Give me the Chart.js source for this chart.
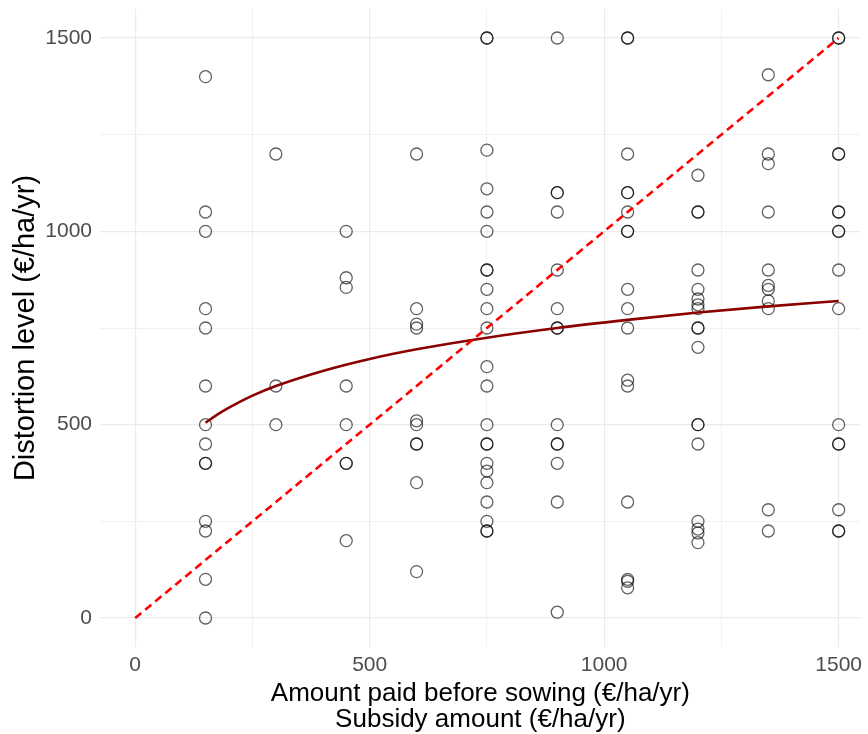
<!DOCTYPE html>
<html>
<head>
<meta charset="utf-8">
<script src="https://cdn.jsdelivr.net/npm/chart.js@4.4.1/dist/chart.umd.min.js"></script>
<style>
  html, body { margin: 0; padding: 0; background: #fff; overflow: hidden; }
  canvas { display: block; }
</style>
</head>
<body>
<canvas id="scatter-chart" width="868" height="734"></canvas>
<script>
(function () {
    "use strict";

    // subsidy levels (x) and the distortion answers read at each level (y)
    var subsidyLevels = [150, 300, 450, 600, 750, 900, 1050, 1200, 1350, 1500];
    var at150 = [1400, 1050, 1000, 800, 750, 600, 500, 450, 400, 400, 250, 225, 100, 0];
    var at300 = [1200, 600, 500];
    var at450 = [1000, 880, 855, 600, 500, 400, 400, 200];
    var at600 = [1200, 800, 760, 750, 510, 500, 450, 450, 350, 120];
    var at750 = [1500, 1500, 1210, 1110, 1050, 1000, 900, 900, 850, 800, 750, 650, 600, 500, 450, 450, 400, 380, 350, 300, 250, 225, 225];
    var at900 = [1500, 1100, 1100, 1050, 900, 800, 750, 750, 500, 450, 450, 400, 300, 15];
    var at1050 = [1500, 1500, 1200, 1100, 1100, 1050, 1000, 1000, 850, 800, 750, 615, 600, 300, 100, 95, 78];
    var at1200 = [1145, 1050, 1050, 900, 850, 825, 810, 800, 750, 750, 700, 500, 500, 450, 250, 230, 220, 195];
    var at1350 = [1405, 1200, 1175, 1050, 900, 860, 850, 820, 800, 280, 225];
    var at1500 = [1500, 1500, 1200, 1200, 1050, 1050, 1000, 1000, 900, 800, 500, 450, 450, 280, 225, 225];
    var answers = [at150, at300, at450, at600, at750, at900, at1050, at1200, at1350, at1500];

    // fitted curve
    var fitX = [150, 175, 200, 250, 300, 400, 500, 600, 750, 900, 1050, 1200, 1350, 1500];
    var fitY = [505, 526, 544, 575, 600, 639, 670, 695, 725, 750, 771, 790, 806, 820];

    // 1:1 reference line
    var refX = [0, 1500];
    var refY = [0, 1500];

    var tickValues = [0, 250, 500, 750, 1000, 1250, 1500];

    var points = [];
    subsidyLevels.forEach(function (x, i) {
        answers[i].forEach(function (y) { points.push({ x: x, y: y }); });
    });
    var fitPoints = fitX.map(function (x, i) { return { x: x, y: fitY[i] }; });
    var refPoints = refX.map(function (x, i) { return { x: x, y: refY[i] }; });

    var fontFamily = "'Liberation Sans', Arial, sans-serif";

    function isMajor(v) { return v % 500 === 0; }
    function setTicks(scale) {
        scale.ticks = tickValues.map(function (v) { return { value: v }; });
    }
    var gridOpts = {
        drawTicks: false,
        color: "#ebebeb",
        lineWidth: function (ctx) { return ctx.tick && isMajor(ctx.tick.value) ? 1.2 : 0.7; }
    };

    var ctx = document.getElementById("scatter-chart").getContext("2d");
    new Chart(ctx, {
        type: "scatter",
        data: {
            datasets: [{
                data: refPoints,
                showLine: true,
                borderColor: "#ff0000",
                borderWidth: 2.6,
                borderDash: [8, 5],
                pointRadius: 0,
                order: 1
            }, {
                data: fitPoints,
                showLine: true,
                borderColor: "#8b0000",
                borderWidth: 2.6,
                cubicInterpolationMode: "monotone",
                pointRadius: 0,
                order: 2
            }, {
                data: points,
                pointRadius: 6,
                pointBorderWidth: 1.3,
                pointBackgroundColor: "rgba(0,0,0,0)",
                pointBorderColor: "rgba(0,0,0,0.62)",
                order: 3
            }]
        },
        options: {
            responsive: false,
            animation: false,
            layout: { padding: { top: 9, right: 0, left: 0, bottom: 0 } },
            plugins: { legend: { display: false }, tooltip: { enabled: false } },
            scales: {
                x: {
                    type: "linear",
                    min: -75,
                    max: 1547,
                    afterBuildTicks: setTicks,
                    afterFit: function (scale) {
                        scale.height = 87;
                        scale.paddingLeft = 0;
                        scale.paddingRight = 0;
                    },
                    border: { display: false },
                    grid: gridOpts,
                    ticks: {
                        autoSkip: false,
                        maxRotation: 0,
                        padding: 6,
                        color: "#4d4d4d",
                        font: { family: fontFamily, size: 21 },
                        callback: function (v) { return isMajor(v) ? String(v) : ""; }
                    },
                    title: {
                        display: true,
                        text: ["Amount paid before sowing (€/ha/yr)", "Subsidy amount (€/ha/yr)"],
                        color: "#000",
                        font: { family: fontFamily, size: 26, lineHeight: 1.0 },
                        padding: { top: 2, bottom: 1 }
                    }
                },
                y: {
                    type: "linear",
                    min: -75,
                    max: 1575,
                    afterBuildTicks: setTicks,
                    afterFit: function (scale) {
                        scale.width = 100;
                        scale.paddingTop = 0;
                        scale.paddingBottom = 0;
                    },
                    border: { display: false },
                    grid: gridOpts,
                    ticks: {
                        autoSkip: false,
                        padding: 8,
                        color: "#4d4d4d",
                        font: { family: fontFamily, size: 21 },
                        callback: function (v) { return isMajor(v) ? String(v) : ""; }
                    },
                    title: {
                        display: true,
                        text: "Distortion level (€/ha/yr)",
                        color: "#000",
                        font: { family: fontFamily, size: 29, lineHeight: 1.2 },
                        padding: { top: 9, bottom: 0 }
                    }
                }
            }
        }
    });
})();
</script>
</body>
</html>
